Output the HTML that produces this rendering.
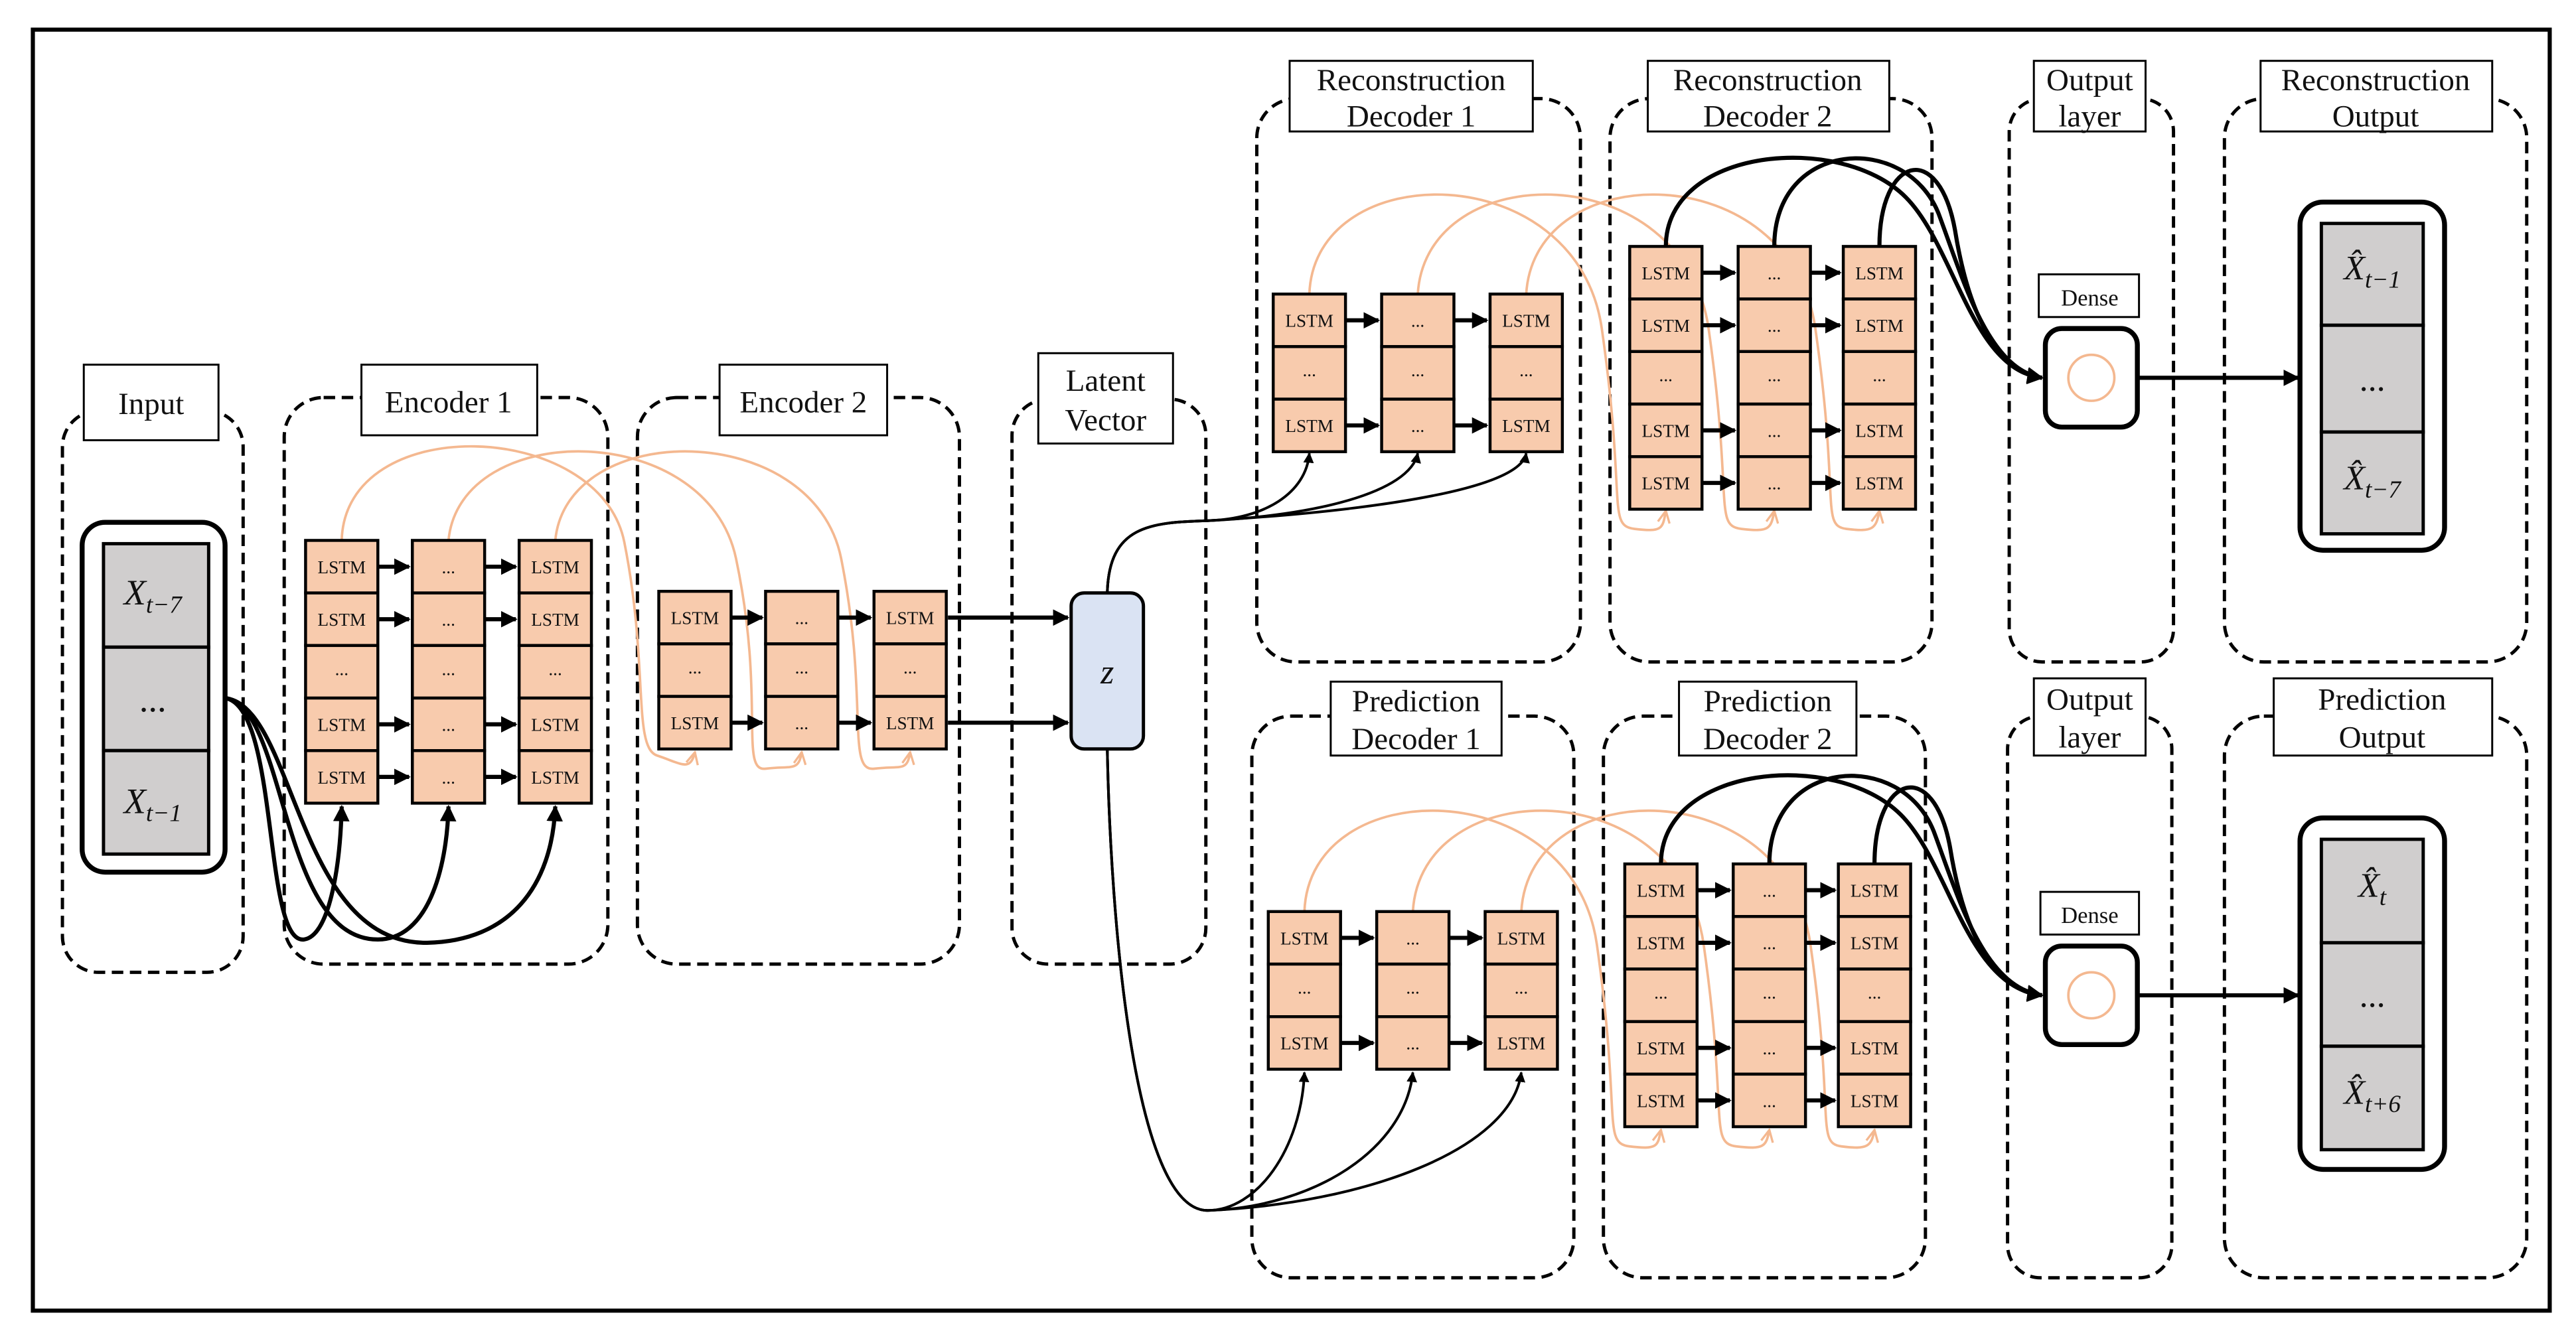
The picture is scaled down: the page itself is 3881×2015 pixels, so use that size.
<!DOCTYPE html>
<html><head><meta charset="utf-8"><style>
html,body{margin:0;padding:0;background:#fff;}
svg{display:block;}
text{font-family:"Liberation Serif",serif;fill:#111;}
</style></head><body>
<svg width="3881" height="2015" viewBox="0 0 1568 814" xmlns="http://www.w3.org/2000/svg">
<defs>
<marker id="ah" viewBox="0 0 10 10" refX="9" refY="5" markerWidth="4" markerHeight="4" orient="auto"><path d="M0,0L10,5L0,10z" fill="#000"/></marker>
<marker id="ap" viewBox="0 0 10 10" refX="9" refY="5" markerWidth="6" markerHeight="6" orient="auto"><path d="M1,1L9,5L1,9" fill="none" stroke="#f4b890" stroke-width="1.5"/></marker>
</defs>
<rect x="20" y="18" width="1532" height="780" fill="#fff" stroke="#000" stroke-width="2.5"/>

<g fill="none" stroke="#000" stroke-width="2" stroke-dasharray="7,4">
<rect x="38" y="250" width="110" height="342" rx="22"/>
<rect x="173" y="242" width="197" height="345" rx="24"/>
<rect x="388" y="242" width="196" height="345" rx="24"/>
<rect x="616" y="243" width="118" height="344" rx="22"/>
<rect x="765" y="60" width="197" height="343" rx="24"/>
<rect x="980" y="60" width="196" height="343" rx="24"/>
<rect x="1223" y="60" width="100" height="343" rx="20"/>
<rect x="1354" y="60" width="184" height="343" rx="24"/>
<rect x="762" y="436" width="196" height="342" rx="24"/>
<rect x="976" y="436" width="196" height="342" rx="24"/>
<rect x="1222" y="436" width="100" height="342" rx="20"/>
<rect x="1354" y="436" width="184" height="342" rx="24"/>
</g>

<g fill="#fff" stroke="#000" stroke-width="1.2">
<rect x="51" y="222" width="82" height="46"/>
<rect x="220" y="222" width="107" height="43"/>
<rect x="438" y="222" width="102" height="43"/>
<rect x="632" y="215" width="82" height="55"/>
<rect x="785" y="37" width="148" height="43"/>
<rect x="1003" y="37" width="147" height="43"/>
<rect x="1238" y="37" width="68" height="43"/>
<rect x="1376" y="37" width="141" height="43"/>
<rect x="810" y="415" width="104" height="45"/>
<rect x="1022" y="415" width="108" height="45"/>
<rect x="1238" y="413" width="68" height="47"/>
<rect x="1384" y="413" width="133" height="47"/>
<rect x="1241" y="167" width="61" height="26"/>
<rect x="1242" y="543" width="60" height="26"/>
</g>
<g font-size="19" text-anchor="middle">
<text x="92" y="252">Input</text>
<text x="273" y="251">Encoder 1</text>
<text x="489" y="251">Encoder 2</text>
<text x="673" y="238">Latent</text><text x="673" y="262">Vector</text>
<text x="859" y="55">Reconstruction</text><text x="859" y="77">Decoder 1</text>
<text x="1076" y="55">Reconstruction</text><text x="1076" y="77">Decoder 2</text>
<text x="1272" y="55">Output</text><text x="1272" y="77">layer</text>
<text x="1446" y="55">Reconstruction</text><text x="1446" y="77">Output</text>
<text x="862" y="433">Prediction</text><text x="862" y="456">Decoder 1</text>
<text x="1076" y="433">Prediction</text><text x="1076" y="456">Decoder 2</text>
<text x="1272" y="432">Output</text><text x="1272" y="455">layer</text>
<text x="1450" y="432">Prediction</text><text x="1450" y="455">Output</text>
<text x="1272" y="186" font-size="14">Dense</text>
<text x="1272" y="562" font-size="14">Dense</text>
</g>

<!-- Input block -->
<rect x="50" y="318" width="87" height="213" rx="14" fill="#fff" stroke="#000" stroke-width="3"/>
<g fill="#d0cece" stroke="#000" stroke-width="2">
<rect x="63" y="331" width="64" height="63"/><rect x="63" y="394" width="64" height="63"/><rect x="63" y="457" width="64" height="63"/>
</g>
<g font-size="22" text-anchor="middle">
<text x="93" y="368" font-style="italic">X<tspan font-size="15" dy="5">t−7</tspan></text>
<text x="93" y="433">...</text>
<text x="93" y="495" font-style="italic">X<tspan font-size="15" dy="5">t−1</tspan></text>
</g>

<!-- Output blocks -->
<rect x="1400" y="123" width="88" height="212" rx="14" fill="#fff" stroke="#000" stroke-width="3"/>
<rect x="1400" y="498" width="88" height="214" rx="14" fill="#fff" stroke="#000" stroke-width="3"/>
<g fill="#d0cece" stroke="#000" stroke-width="2">
<rect x="1413" y="136" width="62" height="62"/><rect x="1413" y="198" width="62" height="65"/><rect x="1413" y="263" width="62" height="62"/>
<rect x="1413" y="511" width="62" height="63"/><rect x="1413" y="574" width="62" height="63"/><rect x="1413" y="637" width="62" height="63"/>
</g>
<g font-size="21" text-anchor="middle">
<text x="1444" y="170" font-style="italic">X̂<tspan font-size="15" dy="5">t−1</tspan></text>
<text x="1444" y="238">...</text>
<text x="1444" y="298" font-style="italic">X̂<tspan font-size="15" dy="5">t−7</tspan></text>
<text x="1444" y="546" font-style="italic">X̂<tspan font-size="15" dy="5">t</tspan></text>
<text x="1444" y="613">...</text>
<text x="1444" y="672" font-style="italic">X̂<tspan font-size="15" dy="5">t+6</tspan></text>
</g>

<!-- Dense nodes -->
<rect x="1245" y="200" width="56" height="60" rx="10" fill="#fff" stroke="#000" stroke-width="3"/>
<circle cx="1273" cy="230" r="14" fill="none" stroke="#f4b890" stroke-width="1.5"/>
<rect x="1245" y="576" width="56" height="60" rx="10" fill="#fff" stroke="#000" stroke-width="3"/>
<circle cx="1273" cy="606" r="14" fill="none" stroke="#f4b890" stroke-width="1.5"/>
<g stroke="#000" stroke-width="2.5" marker-end="url(#ah)">
<line x1="1301" y1="230" x2="1399" y2="230"/>
<line x1="1301" y1="606" x2="1399" y2="606"/>
</g>

<!-- z -->
<rect x="652" y="361" width="44" height="95" rx="8" fill="#dae3f3" stroke="#000" stroke-width="2"/>
<text x="674" y="416" font-size="21" font-style="italic" text-anchor="middle">z</text>
<g stroke="#000" stroke-width="2.5" marker-end="url(#ah)">
<line x1="577" y1="376" x2="650" y2="376"/>
<line x1="577" y1="440" x2="650" y2="440"/>
</g>

<!-- peach arcs -->
<g fill="none" stroke="#f4b890" stroke-width="1.5">
<path d="M208,329 C210,250 365,255 380,330 S385,455 400,460 S420,470 423,458" marker-end="url(#ap)"/>
<path d="M273,329 C280,255 430,255 448,340 S450,470 466,468 S486,470 488,458" marker-end="url(#ap)"/>
<path d="M338,329 C345,255 495,255 512,340 S515,470 532,468 S552,470 554,458" marker-end="url(#ap)"/>
<path d="M797,179 C800,95 960,95 975,200 S978,320 995,322 S1012,322 1014,311" marker-end="url(#ap)"/>
<path d="M863,179 C868,95 1025,95 1040,200 S1043,320 1060,322 S1078,322 1080,311" marker-end="url(#ap)"/>
<path d="M929,179 C934,95 1090,95 1105,200 S1108,320 1124,322 S1142,322 1144,311" marker-end="url(#ap)"/>
<path d="M794,555 C797,470 957,470 972,575 S975,696 992,698 S1009,698 1011,688" marker-end="url(#ap)"/>
<path d="M860,555 C865,470 1022,470 1037,575 S1040,696 1057,698 S1075,698 1077,688" marker-end="url(#ap)"/>
<path d="M926,555 C931,470 1087,470 1102,575 S1105,696 1121,698 S1139,698 1141,688" marker-end="url(#ap)"/>
</g>

<!-- 5-row stacks -->
<g transform="translate(186,329)">
<g fill="#f8cbad" stroke="#000" stroke-width="1.8">
<rect x="0" y="0" width="44" height="32"/><rect x="0" y="32" width="44" height="32"/><rect x="0" y="64" width="44" height="32"/><rect x="0" y="96" width="44" height="32"/><rect x="0" y="128" width="44" height="32"/>
<rect x="65" y="0" width="44" height="32"/><rect x="65" y="32" width="44" height="32"/><rect x="65" y="64" width="44" height="32"/><rect x="65" y="96" width="44" height="32"/><rect x="65" y="128" width="44" height="32"/>
<rect x="130" y="0" width="44" height="32"/><rect x="130" y="32" width="44" height="32"/><rect x="130" y="64" width="44" height="32"/><rect x="130" y="96" width="44" height="32"/><rect x="130" y="128" width="44" height="32"/>
</g>
<g font-size="11" text-anchor="middle">
<text x="22" y="20">LSTM</text><text x="22" y="52">LSTM</text><text x="22" y="82">...</text><text x="22" y="116">LSTM</text><text x="22" y="148">LSTM</text>
<text x="87" y="20">...</text><text x="87" y="52">...</text><text x="87" y="82">...</text><text x="87" y="116">...</text><text x="87" y="148">...</text>
<text x="152" y="20">LSTM</text><text x="152" y="52">LSTM</text><text x="152" y="82">...</text><text x="152" y="116">LSTM</text><text x="152" y="148">LSTM</text>
</g>
<g stroke="#000" stroke-width="2.5" marker-end="url(#ah)">
<line x1="44" y1="16" x2="63" y2="16"/><line x1="44" y1="48" x2="63" y2="48"/><line x1="44" y1="112" x2="63" y2="112"/><line x1="44" y1="144" x2="63" y2="144"/>
<line x1="109" y1="16" x2="128" y2="16"/><line x1="109" y1="48" x2="128" y2="48"/><line x1="109" y1="112" x2="128" y2="112"/><line x1="109" y1="144" x2="128" y2="144"/>
</g>
</g>

<g transform="translate(992,150)">
<g fill="#f8cbad" stroke="#000" stroke-width="1.8">
<rect x="0" y="0" width="44" height="32"/><rect x="0" y="32" width="44" height="32"/><rect x="0" y="64" width="44" height="32"/><rect x="0" y="96" width="44" height="32"/><rect x="0" y="128" width="44" height="32"/>
<rect x="66" y="0" width="44" height="32"/><rect x="66" y="32" width="44" height="32"/><rect x="66" y="64" width="44" height="32"/><rect x="66" y="96" width="44" height="32"/><rect x="66" y="128" width="44" height="32"/>
<rect x="130" y="0" width="44" height="32"/><rect x="130" y="32" width="44" height="32"/><rect x="130" y="64" width="44" height="32"/><rect x="130" y="96" width="44" height="32"/><rect x="130" y="128" width="44" height="32"/>
</g>
<g font-size="11" text-anchor="middle">
<text x="22" y="20">LSTM</text><text x="22" y="52">LSTM</text><text x="22" y="82">...</text><text x="22" y="116">LSTM</text><text x="22" y="148">LSTM</text>
<text x="88" y="20">...</text><text x="88" y="52">...</text><text x="88" y="82">...</text><text x="88" y="116">...</text><text x="88" y="148">...</text>
<text x="152" y="20">LSTM</text><text x="152" y="52">LSTM</text><text x="152" y="82">...</text><text x="152" y="116">LSTM</text><text x="152" y="148">LSTM</text>
</g>
<g stroke="#000" stroke-width="2.5" marker-end="url(#ah)">
<line x1="44" y1="16" x2="64" y2="16"/><line x1="44" y1="48" x2="64" y2="48"/><line x1="44" y1="112" x2="64" y2="112"/><line x1="44" y1="144" x2="64" y2="144"/>
<line x1="110" y1="16" x2="128" y2="16"/><line x1="110" y1="48" x2="128" y2="48"/><line x1="110" y1="112" x2="128" y2="112"/><line x1="110" y1="144" x2="128" y2="144"/>
</g>
</g>

<g transform="translate(989,526)">
<g fill="#f8cbad" stroke="#000" stroke-width="1.8">
<rect x="0" y="0" width="44" height="32"/><rect x="0" y="32" width="44" height="32"/><rect x="0" y="64" width="44" height="32"/><rect x="0" y="96" width="44" height="32"/><rect x="0" y="128" width="44" height="32"/>
<rect x="66" y="0" width="44" height="32"/><rect x="66" y="32" width="44" height="32"/><rect x="66" y="64" width="44" height="32"/><rect x="66" y="96" width="44" height="32"/><rect x="66" y="128" width="44" height="32"/>
<rect x="130" y="0" width="44" height="32"/><rect x="130" y="32" width="44" height="32"/><rect x="130" y="64" width="44" height="32"/><rect x="130" y="96" width="44" height="32"/><rect x="130" y="128" width="44" height="32"/>
</g>
<g font-size="11" text-anchor="middle">
<text x="22" y="20">LSTM</text><text x="22" y="52">LSTM</text><text x="22" y="82">...</text><text x="22" y="116">LSTM</text><text x="22" y="148">LSTM</text>
<text x="88" y="20">...</text><text x="88" y="52">...</text><text x="88" y="82">...</text><text x="88" y="116">...</text><text x="88" y="148">...</text>
<text x="152" y="20">LSTM</text><text x="152" y="52">LSTM</text><text x="152" y="82">...</text><text x="152" y="116">LSTM</text><text x="152" y="148">LSTM</text>
</g>
<g stroke="#000" stroke-width="2.5" marker-end="url(#ah)">
<line x1="44" y1="16" x2="64" y2="16"/><line x1="44" y1="48" x2="64" y2="48"/><line x1="44" y1="112" x2="64" y2="112"/><line x1="44" y1="144" x2="64" y2="144"/>
<line x1="110" y1="16" x2="128" y2="16"/><line x1="110" y1="48" x2="128" y2="48"/><line x1="110" y1="112" x2="128" y2="112"/><line x1="110" y1="144" x2="128" y2="144"/>
</g>
</g>

<!-- 3-row stacks -->
<g transform="translate(401,360)">
<g fill="#f8cbad" stroke="#000" stroke-width="1.8">
<rect x="0" y="0" width="44" height="32"/><rect x="0" y="32" width="44" height="32"/><rect x="0" y="64" width="44" height="32"/>
<rect x="65" y="0" width="44" height="32"/><rect x="65" y="32" width="44" height="32"/><rect x="65" y="64" width="44" height="32"/>
<rect x="131" y="0" width="44" height="32"/><rect x="131" y="32" width="44" height="32"/><rect x="131" y="64" width="44" height="32"/>
</g>
<g font-size="11" text-anchor="middle">
<text x="22" y="20">LSTM</text><text x="22" y="50">...</text><text x="22" y="84">LSTM</text>
<text x="87" y="20">...</text><text x="87" y="50">...</text><text x="87" y="84">...</text>
<text x="153" y="20">LSTM</text><text x="153" y="50">...</text><text x="153" y="84">LSTM</text>
</g>
<g stroke="#000" stroke-width="2.5" marker-end="url(#ah)">
<line x1="44" y1="16" x2="63" y2="16"/><line x1="44" y1="80" x2="63" y2="80"/>
<line x1="109" y1="16" x2="129" y2="16"/><line x1="109" y1="80" x2="129" y2="80"/>
</g>
</g>

<g transform="translate(775,179)">
<g fill="#f8cbad" stroke="#000" stroke-width="1.8">
<rect x="0" y="0" width="44" height="32"/><rect x="0" y="32" width="44" height="32"/><rect x="0" y="64" width="44" height="32"/>
<rect x="66" y="0" width="44" height="32"/><rect x="66" y="32" width="44" height="32"/><rect x="66" y="64" width="44" height="32"/>
<rect x="132" y="0" width="44" height="32"/><rect x="132" y="32" width="44" height="32"/><rect x="132" y="64" width="44" height="32"/>
</g>
<g font-size="11" text-anchor="middle">
<text x="22" y="20">LSTM</text><text x="22" y="50">...</text><text x="22" y="84">LSTM</text>
<text x="88" y="20">...</text><text x="88" y="50">...</text><text x="88" y="84">...</text>
<text x="154" y="20">LSTM</text><text x="154" y="50">...</text><text x="154" y="84">LSTM</text>
</g>
<g stroke="#000" stroke-width="2.5" marker-end="url(#ah)">
<line x1="44" y1="16" x2="64" y2="16"/><line x1="44" y1="80" x2="64" y2="80"/>
<line x1="110" y1="16" x2="130" y2="16"/><line x1="110" y1="80" x2="130" y2="80"/>
</g>
</g>

<g transform="translate(772,555)">
<g fill="#f8cbad" stroke="#000" stroke-width="1.8">
<rect x="0" y="0" width="44" height="32"/><rect x="0" y="32" width="44" height="32"/><rect x="0" y="64" width="44" height="32"/>
<rect x="66" y="0" width="44" height="32"/><rect x="66" y="32" width="44" height="32"/><rect x="66" y="64" width="44" height="32"/>
<rect x="132" y="0" width="44" height="32"/><rect x="132" y="32" width="44" height="32"/><rect x="132" y="64" width="44" height="32"/>
</g>
<g font-size="11" text-anchor="middle">
<text x="22" y="20">LSTM</text><text x="22" y="50">...</text><text x="22" y="84">LSTM</text>
<text x="88" y="20">...</text><text x="88" y="50">...</text><text x="88" y="84">...</text>
<text x="154" y="20">LSTM</text><text x="154" y="50">...</text><text x="154" y="84">LSTM</text>
</g>
<g stroke="#000" stroke-width="2.5" marker-end="url(#ah)">
<line x1="44" y1="16" x2="64" y2="16"/><line x1="44" y1="80" x2="64" y2="80"/>
<line x1="110" y1="16" x2="130" y2="16"/><line x1="110" y1="80" x2="130" y2="80"/>
</g>
</g>

<!-- black curves -->
<g fill="none" stroke="#000" stroke-width="2.5" marker-end="url(#ah)">
<path d="M137,425 C170,430 160,575 185,572 C200,570 207,530 208,491"/>
<path d="M137,425 C175,430 170,572 230,572 C260,572 272,530 273,491"/>
<path d="M137,425 C180,430 180,575 260,574 C310,573 336,540 338,491"/>
<path d="M1014,150 C1014,90 1120,80 1160,120 C1190,150 1200,225 1243,230"/>
<path d="M1080,150 C1080,85 1160,80 1180,130 C1195,170 1210,225 1243,230"/>
<path d="M1144,150 C1144,95 1180,85 1190,140 C1198,190 1215,225 1243,230"/>
<path d="M1011,526 C1011,466 1117,456 1157,496 C1187,526 1197,601 1243,606"/>
<path d="M1077,526 C1077,461 1157,456 1177,506 C1192,546 1207,601 1243,606"/>
<path d="M1141,526 C1141,471 1177,461 1187,516 C1195,566 1212,601 1243,606"/>
</g>
<g fill="none" stroke="#000" stroke-width="1.6" marker-end="url(#ah)">
<path d="M674,361 C675,320 700,318 735,317 C770,316 795,300 797,276"/>
<path d="M674,361 C675,320 700,318 735,317 C800,314 858,300 863,276"/>
<path d="M674,361 C675,320 700,318 735,317 C820,312 925,300 929,276"/>
<path d="M674,456 C676,560 690,737 735,737 C765,737 792,700 794,653"/>
<path d="M674,456 C676,560 690,737 735,737 C800,735 855,700 860,653"/>
<path d="M674,456 C676,560 690,737 735,737 C830,733 920,700 926,653"/>
</g>
</svg>
</body></html>
